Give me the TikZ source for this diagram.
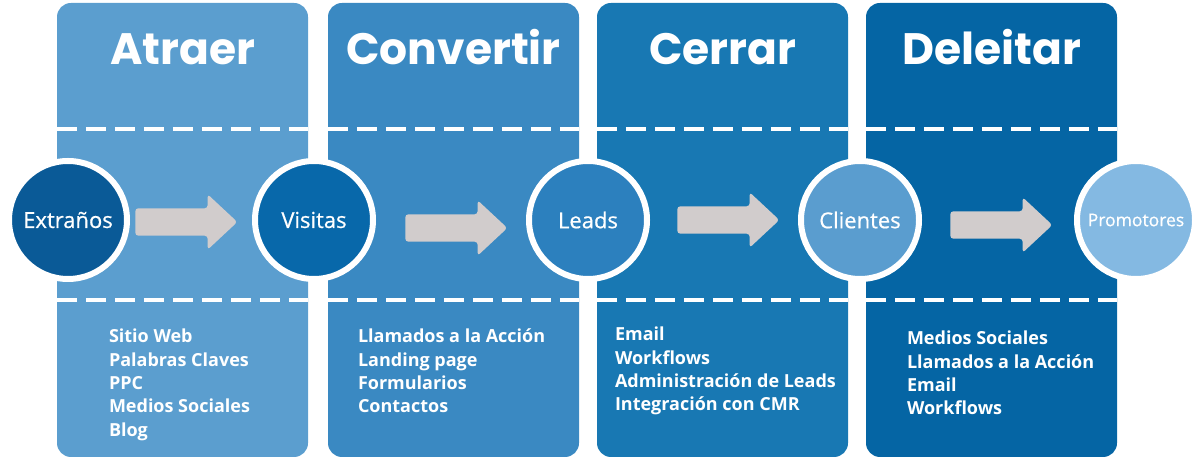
\documentclass[tikz,border=0pt]{standalone}
\usepackage{fontspec}
\setmainfont{Open Sans}
\newfontfamily\titlefont{Poppins}
\newfontfamily\etapafont{Open Sans}[FakeBold=0.6]
\usetikzlibrary{shapes.arrows,calc,positioning}

\definecolor{azulA}{HTML}{5B9ECF}
\definecolor{azulB}{HTML}{3A89C2}
\definecolor{azulC}{HTML}{1878B3}
\definecolor{azulD}{HTML}{0565A4}
\definecolor{circA}{HTML}{0A5A97}
\definecolor{circB}{HTML}{0868AA}
\definecolor{circC}{HTML}{2C80BE}
\definecolor{circD}{HTML}{5A9DCF}
\definecolor{circE}{HTML}{84B9E2}
\definecolor{grisfl}{HTML}{D1CCCC}

\begin{document}
\begin{tikzpicture}[x=1pt, y=1pt,
	panel/.style={rectangle, fill=#1, rounded corners=14pt, minimum width=251pt, minimum height=454pt, inner sep=0pt},
	etapa/.style={circle, draw=white, line width=6pt, fill=#1, minimum size=118pt, inner sep=0pt, text=white, font=\etapafont\fontsize{22}{26}\selectfont},
	titulo/.style={anchor=base, text=white, font=\titlefont\bfseries\fontsize{44}{50}\selectfont},
	lista/.style={anchor=north west, align=left, text=white, inner sep=0pt, font=\bfseries\fontsize{18}{23.3}\selectfont},
	flecha/.style={single arrow, fill=grisfl, rounded corners=3pt, inner sep=0pt, text height=27pt, text depth=0pt, minimum height=102pt, single arrow head extend=14pt, single arrow tip angle=86},
	corte/.style={white, line width=4pt, dash pattern=on 20pt off 9pt},
	node distance=271pt]

	\useasboundingbox (0,0) rectangle (1200,460);

	\node [panel=azulA] (P1) at (182.5,230) {};
	\node [panel=azulB] (P2) [right of = P1] {};
	\node [panel=azulC] (P3) [right of = P2, node distance=269pt] {};
	\node [panel=azulD] (P4) [right of = P3, node distance=269pt] {};

	\node [titulo] (T1) at ($(P1.north)+(0,-62)$) {Atraer};
	\node [titulo] (T2) at ($(P2.north)+(0,-62)$) {Convertir};
	\node [titulo] (T3) at ($(P3.north)+(0,-62)$) {Cerrar};
	\node [titulo] (T4) at ($(P4.north)+(0,-62)$) {Deleitar};

	\foreach \p in {P1,P2,P3,P4} {
		\draw [corte] ([yshift=-126pt]\p.north west) -- ([yshift=-126pt]\p.north east);
		\draw [corte] ([yshift=-297pt]\p.north west) -- ([yshift=-297pt]\p.north east);
	}

	\node [etapa=circA] (E) at (68,240) {Extraños};
	\node [etapa=circB] (V) [right of = E, node distance=246pt] {Visitas};
	\node [etapa=circC] (L) [right of = V, node distance=274pt] {Leads};
	\node [etapa=circD] (C) [right of = L, node distance=272pt] {Clientes};
	\node [etapa=circE, font=\etapafont\fontsize{17.5}{21}\selectfont] (Pr) [right of = C, node distance=276pt] {Promotores};

	\node [flecha, xshift=-12pt, yshift=-2pt] (F1) at ($(E)!0.5!(V)$) {};
	\node [flecha, xshift=-2pt, yshift=-8pt] (F2) at ($(V)!0.5!(L)$) {};
	\node [flecha, xshift=-3pt] (F3) at ($(L)!0.5!(C)$) {};
	\node [flecha, xshift=-4pt, yshift=-5pt] (F4) at ($(C)!0.5!(Pr)$) {};

	\node [lista] (L1) at ($(P1.west |- 0,131)+(52,0)$)
	{Sitio Web \\ Palabras Claves \\ PPC \\ Medios Sociales \\ Blog};
	\node [lista] (L2) at ($(P2.west |- 0,131)+(30,0)$)
	{Llamados a la Acción \\ Landing page \\ Formularios \\ Contactos};
	\node [lista] (L3) at ($(P3.west |- 0,133)+(18,0)$)
	{Email \\ Workflows \\ Administración de Leads \\ Integración con CMR};
	\node [lista] (L4) at ($(P4.west |- 0,129)+(41,0)$)
	{Medios Sociales \\ Llamados a la Acción \\ Email \\ Workflows};

\end{tikzpicture}
\end{document}
